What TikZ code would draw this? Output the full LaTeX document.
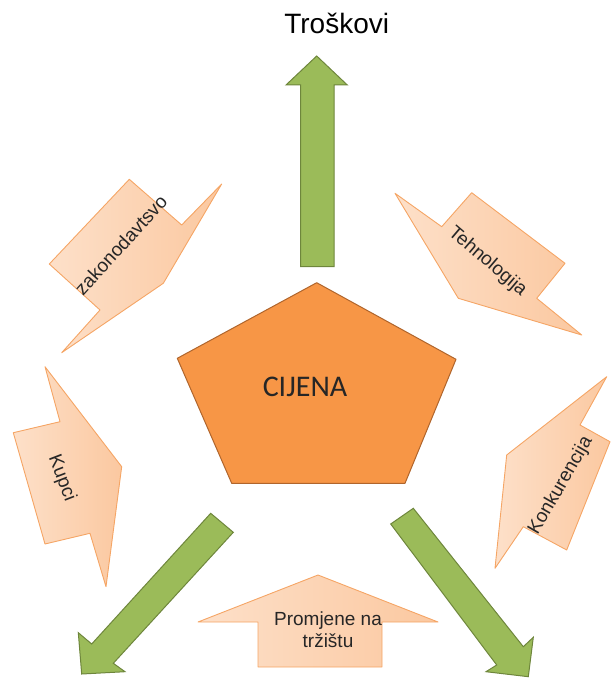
\documentclass[tikz,border=0pt]{standalone}
\usepackage{fontspec}
\setmainfont{Liberation Sans}
\newfontfamily\calibfont{Carlito}
\definecolor{peachL}{HTML}{FDE0C9}
\definecolor{peachD}{HTML}{FBC8A0}
\definecolor{peachB}{HTML}{F5A565}
\definecolor{greenF}{HTML}{9BBB59}
\definecolor{greenB}{HTML}{6E863C}
\definecolor{pentF}{HTML}{F79646}
\definecolor{pentB}{HTML}{B0652C}
\definecolor{txt}{HTML}{262626}
\begin{document}
\begin{tikzpicture}[x=1pt,y=-1pt,
  callout/.style={draw=peachB, line width=0.9pt, line join=round, left color=peachL, right color=peachD},
  greenarrow/.style={draw=greenB, line width=1pt, line join=miter, fill=greenF},
  pent/.style={draw=pentB, line width=1pt, line join=round, fill=pentF},
  lbl/.style={text=txt, font=\fontsize{19}{22}\selectfont, inner sep=0pt}]
\useasboundingbox (0,0) rectangle (611,679);
% green arrows
\draw[greenarrow] (300.7,266.7) -- (300.7,85) -- (286,85) -- (316.7,56) -- (347.3,85) -- (334,85) -- (334,266.7) -- cycle;
\draw[greenarrow] (210.7,513.3) -- (91.7,644) -- (78.3,632.7) -- (81.7,674) -- (125,671.7) -- (113.3,663.3) -- (233.3,532.3) -- cycle;
\draw[greenarrow] (413.3,508.3) -- (523.3,646.7) -- (533.3,637.3) -- (528.3,676.7) -- (486,671.7) -- (496.7,665) -- (390.7,524) -- cycle;
% pentagon
\draw[pent] (316.7,282.7) -- (456,359.3) -- (405,483.3) -- (231.7,483.3) -- (177.3,358.3) -- cycle;
% callouts
\draw[callout] (129.3,179.3) -- (181.7,225) -- (221.7,184) -- (163.3,283.3) -- (61.7,352.7) -- (100,310) -- (49.3,264) -- cycle;
\draw[callout] (395,193.3) -- (441.7,226.7) -- (471.7,192.7) -- (565,263.3) -- (536.7,298.3) -- (581.7,335) -- (458.3,298.3) -- cycle;
\draw[callout] (45,366.7) -- (60,421.7) -- (13.3,432.7) -- (45,544) -- (90,533.3) -- (106,586.7) -- (121.7,466.7) -- cycle;
\draw[callout] (606.7,376.7) -- (580,425) -- (610,441.7) -- (566.7,550) -- (523.3,526.7) -- (495,568.3) -- (506.7,455) -- cycle;
\draw[callout] (258,667) -- (258,622) -- (198,622) -- (318,575) -- (438,622) -- (382,622) -- (382,667) -- cycle;
% texts
\node[text=black, font=\fontsize{28}{32}\selectfont, inner sep=0pt] (troskovi) at (336.7,23.3) {Troškovi};
\node[text=txt, font=\calibfont\fontsize{30}{34}\selectfont, inner sep=0pt] (cijena) at (305,386.7) {CIJENA};
\node[lbl, rotate=47.7] (zakon) at (120.8,245) {zakonodavtsvo};
\node[lbl, rotate=-40.4] (tehno) at (487.5,261.7) {Tehnologija};
\node[lbl, rotate=-69] (kupci) at (61.7,478.3) {Kupci};
\node[lbl, rotate=60] (konk) at (560.8,485.8) {Konkurencija};
\node[lbl, align=center] (promj) at (328,630) {Promjene na\\tržištu};
\end{tikzpicture}
\end{document}
